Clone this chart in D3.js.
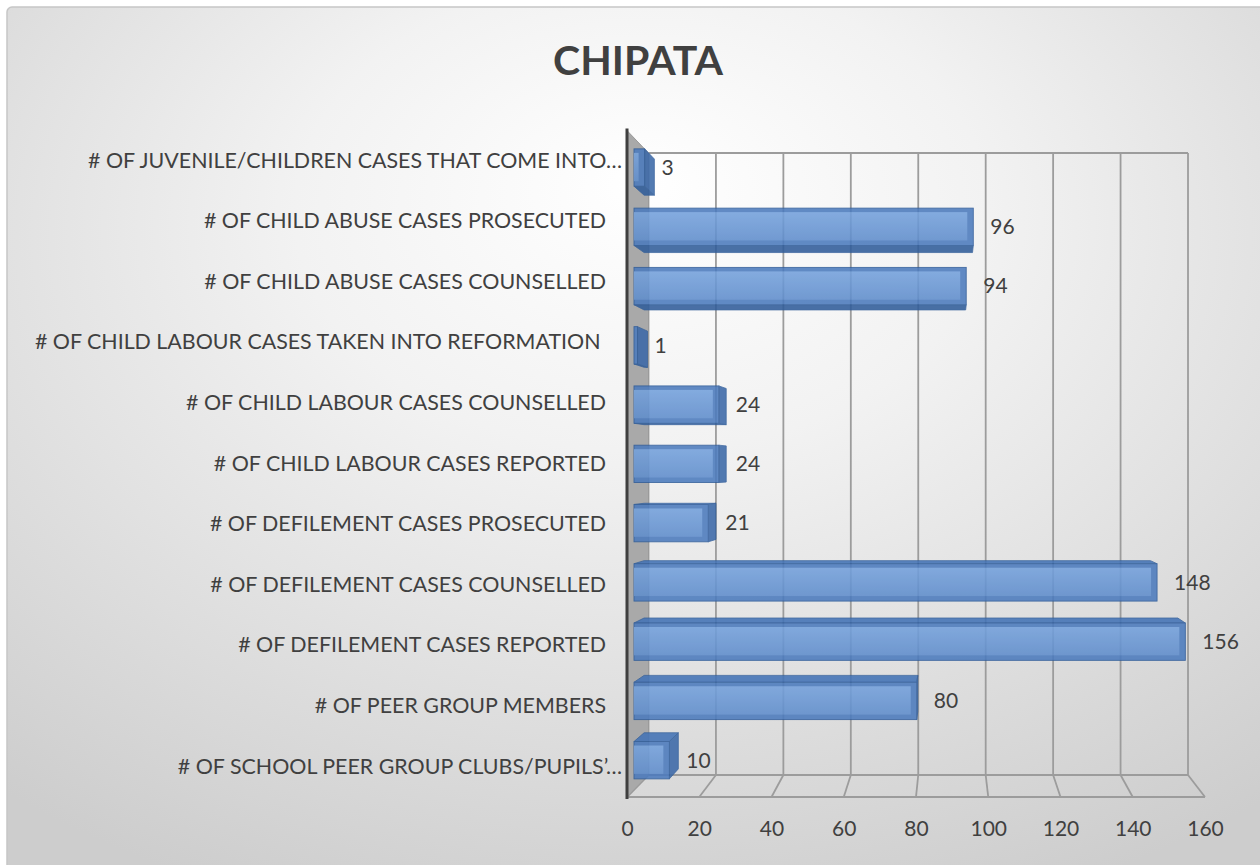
<!DOCTYPE html>
<html>
<head>
<meta charset="utf-8">
<script src="https://cdn.jsdelivr.net/npm/d3@7"></script>
<style>
  html, body { margin: 0; padding: 0; background: #ffffff; }
  svg { display: block; }
  text { font-family: Lato, "Open Sans", sans-serif; fill: #404040; }
</style>
</head>
<body>
<svg id="chart" width="1260" height="865"></svg>
<script>
// Categories, listed top to bottom as drawn
const categories = [
  "# OF JUVENILE/CHILDREN CASES THAT COME INTO…",
  "# OF CHILD ABUSE CASES PROSECUTED",
  "# OF CHILD ABUSE CASES COUNSELLED",
  "# OF CHILD LABOUR CASES TAKEN INTO REFORMATION ",
  "# OF CHILD LABOUR CASES COUNSELLED",
  "# OF CHILD LABOUR CASES REPORTED",
  "# OF DEFILEMENT CASES PROSECUTED",
  "# OF DEFILEMENT CASES COUNSELLED",
  "# OF DEFILEMENT CASES REPORTED",
  "# OF PEER GROUP MEMBERS",
  "# OF SCHOOL PEER GROUP CLUBS/PUPILS’…"
];
const values = [3, 96, 94, 1, 24, 24, 21, 148, 156, 80, 10];
const xTicks = [0, 20, 40, 60, 80, 100, 120, 140, 160];
const chartTitle = "CHIPATA";

const W = 1260, H = 865;
const svg = d3.select("#chart");
const defs = svg.append("defs");

// Chart area background: soft radial fill, white toward the top centre
const bg = defs.append("radialGradient").attr("id", "bgGrad")
  .attr("cx", 0.5).attr("cy", 0.3).attr("r", 0.78).attr("fx", 0.5).attr("fy", 0.2);
bg.append("stop").attr("offset", 0).attr("stop-color", "#ffffff");
bg.append("stop").attr("offset", 0.35).attr("stop-color", "#f2f2f2");
bg.append("stop").attr("offset", 1).attr("stop-color", "#cdcdcd");

const faceGrad = defs.append("linearGradient").attr("id", "faceGrad")
  .attr("x1", 0).attr("y1", 0).attr("x2", 0).attr("y2", 1);
faceGrad.append("stop").attr("offset", 0).attr("stop-color", "#74a1dc");
faceGrad.append("stop").attr("offset", 1).attr("stop-color", "#5f8dcc");

svg.append("rect")
  .attr("x", 7).attr("y", 7).attr("width", W + 10).attr("height", H + 10).attr("rx", 5)
  .attr("fill", "url(#bgGrad)").attr("stroke", "#c6c6c6").attr("stroke-width", 1.5);

// Front-plane scales
const xF = d3.scaleLinear().domain([0, 160]).range([627, 1205]);
const yF = d3.scaleBand().domain(categories).range([130.6, 797])
  .paddingInner(0.37).paddingOuter(0.185);

// Simple perspective: depth s pulls a point toward the vanishing point
const VP = [949.8, 467];
const S_BACK = 0.0666;        // back wall
const S_BAR0 = 0.0217, S_BAR1 = 0.053; // bar front / back faces
function proj(v, y, s) {
  const x = xF(v);
  return [x + s * (VP[0] - x), y + s * (VP[1] - y)];
}
const yTop = yF.range()[0], yBot = yF.range()[1];
const line = d3.line();
const poly = pts => "M" + pts.map(p => p.join(",")).join("L") + "Z";

// Gridlines on back wall and floor
const grid = svg.append("g").attr("stroke", "#9c9c9c").attr("stroke-width", 1.8).attr("fill", "none");
xTicks.forEach(t => {
  grid.append("path").attr("d", line([proj(t, yTop, S_BACK), proj(t, yBot, S_BACK)]));
  grid.append("path").attr("d", line([proj(t, yBot, S_BACK), proj(t, yBot, 0)]));
});
const xMax = xTicks[xTicks.length - 1];
grid.append("path").attr("d", line([proj(0, yTop, S_BACK), proj(xMax, yTop, S_BACK)]));
grid.append("path").attr("d", line([proj(0, yBot, S_BACK), proj(xMax, yBot, S_BACK)]));
grid.append("path").attr("d", line([proj(0, yBot, 0), proj(xMax, yBot, 0)]));

// Side wall
svg.append("path")
  .attr("d", poly([proj(0, yTop, 0), proj(0, yBot, 0), proj(0, yBot, S_BACK), proj(0, yTop, S_BACK)]))
  .attr("fill", "#a9a9a9").attr("stroke", "#9a9a9a").attr("stroke-width", 1);

// Vertical axis line
svg.append("path")
  .attr("d", line([[xF(0), yTop - 2], [xF(0), yBot + 2]]))
  .attr("stroke", "#3f3f3f").attr("stroke-width", 3);

// Bars as 3D boxes
const bars = svg.append("g").attr("opacity", 0.88);
categories.forEach((c, i) => {
  const v = values[i];
  const y0 = yF(c), y1 = y0 + yF.bandwidth();
  const g = bars.append("g");
  const stroke = "#2d5a98";
  // top face (seen when the bar sits below eye level)
  if (y0 > VP[1]) {
    g.append("path").attr("d", poly([proj(0, y0, S_BAR0), proj(v, y0, S_BAR0), proj(v, y0, S_BAR1), proj(0, y0, S_BAR1)]))
      .attr("fill", "#4373b6").attr("stroke", stroke).attr("stroke-width", 0.8);
  }
  // bottom face (seen when the bar sits above eye level)
  if (y1 < VP[1]) {
    g.append("path").attr("d", poly([proj(0, y1, S_BAR0), proj(v, y1, S_BAR0), proj(v, y1, S_BAR1), proj(0, y1, S_BAR1)]))
      .attr("fill", "#315d9a").attr("stroke", stroke).attr("stroke-width", 0.8);
  }
  // right end face
  if (xF(v) < VP[0]) {
    g.append("path").attr("d", poly([proj(v, y0, S_BAR0), proj(v, y1, S_BAR0), proj(v, y1, S_BAR1), proj(v, y0, S_BAR1)]))
      .attr("fill", "#3c69a8").attr("stroke", stroke).attr("stroke-width", 0.8);
  }
  // front face with a bevelled rim
  const a = proj(0, y0, S_BAR0), b = proj(v, y1, S_BAR0);
  g.append("rect").attr("x", a[0]).attr("y", a[1]).attr("width", b[0] - a[0]).attr("height", b[1] - a[1])
    .attr("fill", "#4c7bbd").attr("stroke", stroke).attr("stroke-width", 0.9);
  const inW = Math.max(0, b[0] - a[0] - 6), inH = b[1] - a[1] - 9;
  g.append("rect").attr("x", a[0]).attr("y", a[1] + 4).attr("width", inW).attr("height", inH)
    .attr("fill", "url(#faceGrad)");
});

// Value labels
svg.append("g").selectAll("text").data(categories).join("text")
  .attr("x", (c, i) => proj(values[i], 0, S_BAR0)[0] + 17)
  .attr("y", c => proj(0, yF(c) + yF.bandwidth() / 2, S_BAR0)[1])
  .attr("dy", "0.35em")
  .attr("font-size", 21)
  .text((c, i) => values[i]);

// Category axis
const yAxis = svg.append("g").attr("transform", `translate(${xF(0)},0)`)
  .call(d3.axisLeft(yF).tickSize(0).tickPadding(21));
yAxis.select(".domain").remove();
yAxis.selectAll("text")
  .attr("font-size", 21.4).attr("fill", "#404040")
  .style("font-family", "Lato, sans-serif")
  .style("white-space", "pre")
  .attr("dx", d => d.endsWith("…") ? 16 : 0);

// Value axis
const xAxis = svg.append("g").attr("transform", "translate(0,813)")
  .call(d3.axisBottom(xF).tickValues(xTicks).tickSize(0).tickPadding(8));
xAxis.select(".domain").remove();
xAxis.selectAll("text")
  .attr("font-size", 21).attr("fill", "#404040")
  .style("font-family", "Lato, sans-serif");

// Title
svg.append("text")
  .attr("x", 638).attr("y", 75).attr("text-anchor", "middle")
  .attr("font-size", 41).attr("font-weight", "bold")
  .text(chartTitle);
</script>
</body>
</html>
